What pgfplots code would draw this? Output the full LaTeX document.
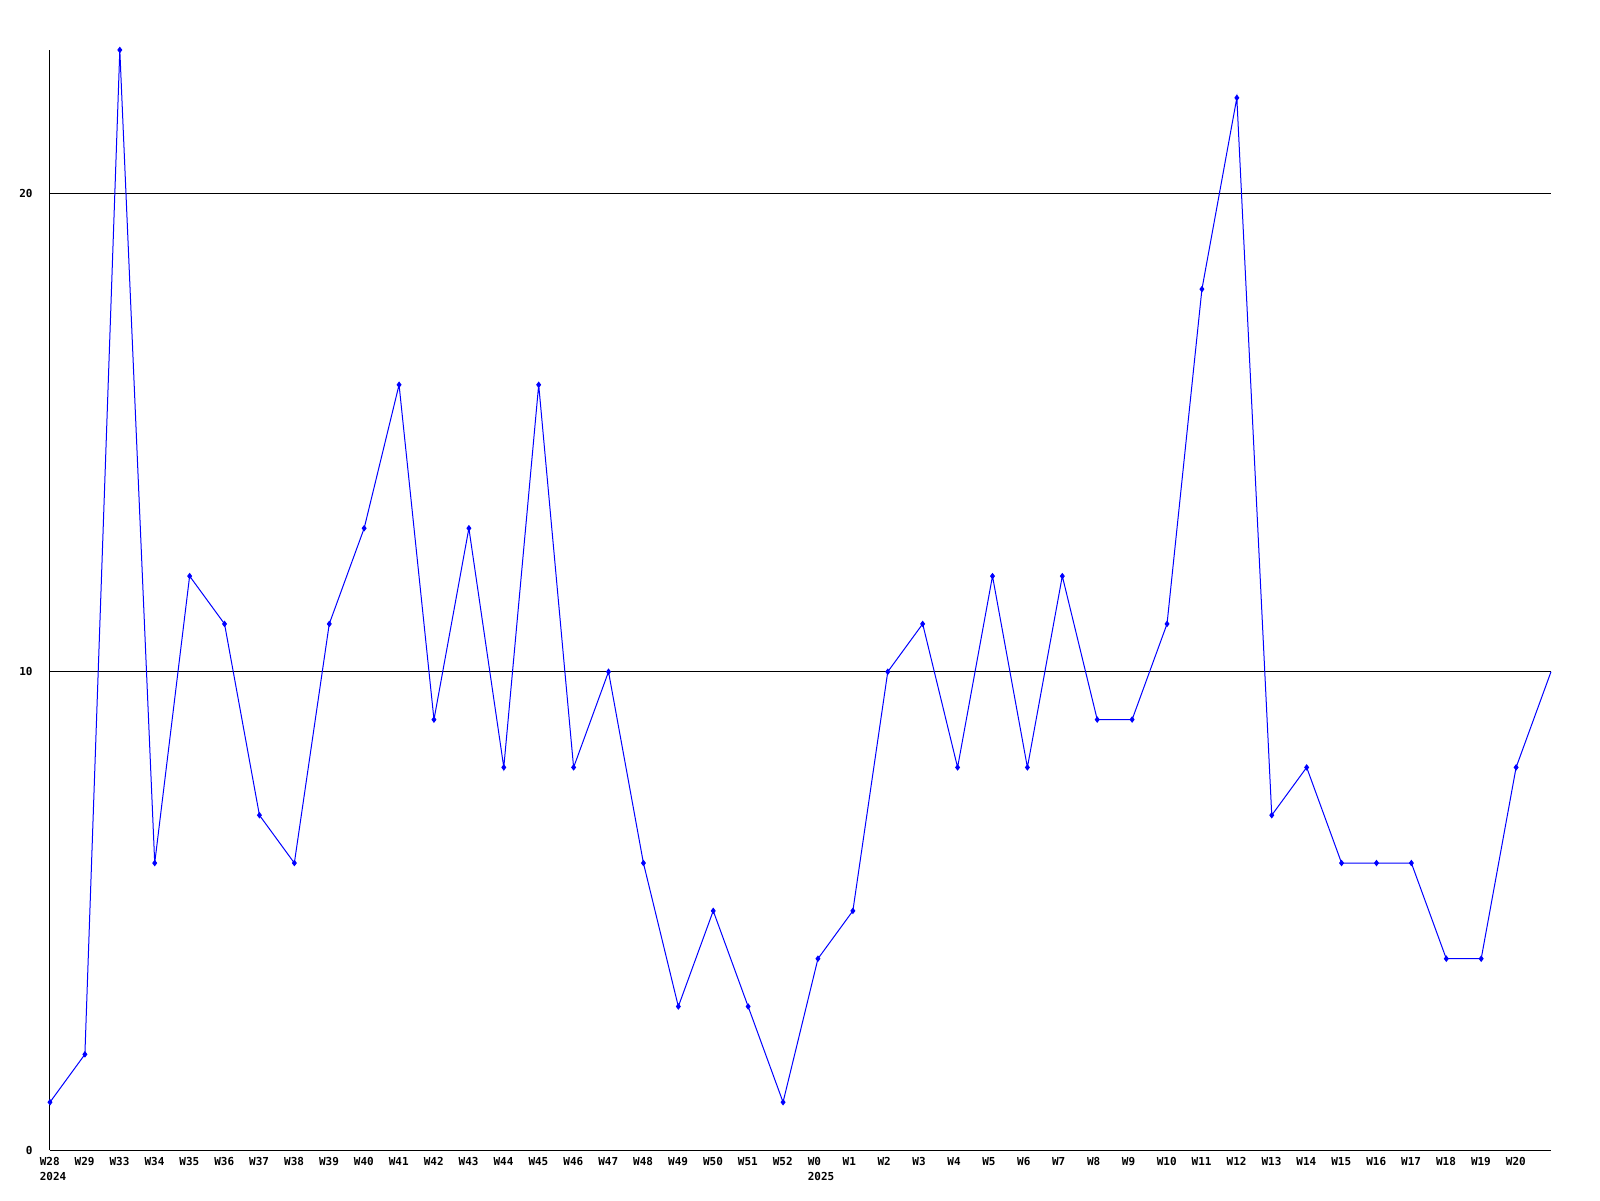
\documentclass[border=0pt]{standalone}
\usepackage{fontspec}
\setmainfont{DejaVu Sans Mono}
\usepackage{pgfplots}
\pgfplotsset{compat=1.18}
\begin{document}
\begin{tikzpicture}
\path[use as bounding box] (0,0) rectangle (800pt,600pt);
\begin{axis}[
  at={(25pt,25pt)}, anchor=south west,
  scale only axis, width=750.5pt, height=550pt,
  xmin=0, xmax=43, ymin=0, ymax=23,
  axis lines=left, axis line style={-, line width=0.5pt, black},
  ytick={0,10,20}, ymajorgrids, grid style={black, line width=0.5pt},
  major tick length=0pt,
  xtick={0,...,42},
  xticklabels={W28\\\rlap{2024},W29,W33,W34,W35,W36,W37,W38,W39,W40,W41,W42,W43,W44,W45,W46,W47,W48,W49,W50,W51,W52,W0\\\rlap{2025},W1,W2,W3,W4,W5,W6,W7,W8,W9,W10,W11,W12,W13,W14,W15,W16,W17,W18,W19,W20},
  xticklabel style={align=left, font=\fontsize{5.5}{7.5}\selectfont\bfseries, inner sep=0pt, yshift=-3.5pt, anchor=north west, xshift=-5.3pt},
  yticklabel style={font=\fontsize{5.5}{7.5}\selectfont\bfseries, inner sep=0pt, xshift=-8.5pt},
  /pgf/number format/assume math mode=true,
  clip=false,
]
\addplot[color={rgb,255:red,0;green,0;blue,255}, line width=0.5pt, mark=diamond*, mark size=1.25pt,
  mark indices={1,...,43}] coordinates {
(0,1)(1,2)(2,23)(3,6)(4,12)(5,11)(6,7)(7,6)(8,11)(9,13)(10,16)(11,9)(12,13)(13,8)(14,16)(15,8)(16,10)(17,6)(18,3)(19,5)(20,3)(21,1)(22,4)(23,5)(24,10)(25,11)(26,8)(27,12)(28,8)(29,12)(30,9)(31,9)(32,11)(33,18)(34,22)(35,7)(36,8)(37,6)(38,6)(39,6)(40,4)(41,4)(42,8)(43,10)
};
\end{axis}
\end{tikzpicture}
\end{document}
